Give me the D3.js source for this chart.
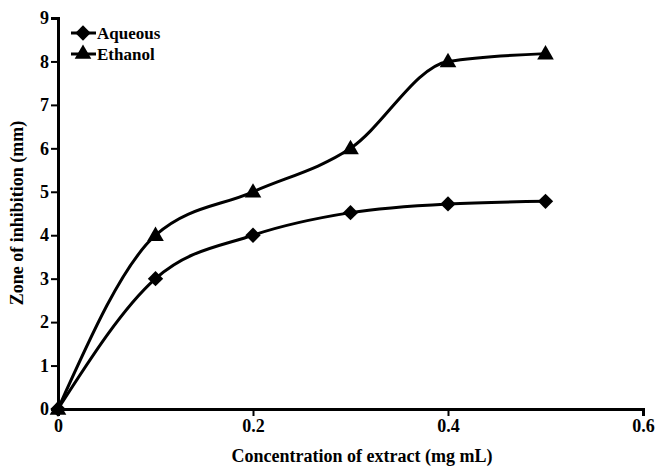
<!DOCTYPE html>
<html>
<head>
<meta charset="utf-8">
<script src="https://cdn.jsdelivr.net/npm/d3@7"></script>
<style>
  body { margin: 0; background: #fff; }
  text { font-family: "Liberation Serif", "Times New Roman", serif; font-weight: bold; fill: #000; }
</style>
</head>
<body>
<svg id="svg" width="661" height="468"></svg>
<script>
// data
const conc = [0, 0.1, 0.2, 0.3, 0.4, 0.5];
const aqueous = [0, 3, 4, 4.52, 4.72, 4.78];
const ethanol = [0, 4, 5, 6, 8, 8.18];
const xTicks = [0, 0.2, 0.4, 0.6];
const yTicks = [0, 1, 2, 3, 4, 5, 6, 7, 8, 9];

const svg = d3.select("#svg");
const x = d3.scaleLinear().domain([0, 0.6]).range([58, 643]);
const y = d3.scaleLinear().domain([0, 9]).range([409, 18]);

// axes
const xAxis = svg.append("g")
  .attr("transform", "translate(0,409)")
  .call(d3.axisBottom(x).tickValues(xTicks).tickSize(7).tickPadding(3)
    .tickFormat(d => d === 0 ? "0" : d3.format(".1f")(d)));
const yAxis = svg.append("g")
  .attr("transform", "translate(58,0)")
  .call(d3.axisLeft(y).tickValues(yTicks).tickSize(7).tickPadding(2));
[xAxis, yAxis].forEach(g => {
  g.select(".domain").attr("stroke", "#000").attr("stroke-width", 3);
  g.selectAll(".tick line").attr("stroke", "#000").attr("stroke-width", 2);
  g.selectAll(".tick text").style("font-size", "18px")
    .style("font-family", "'Liberation Serif', serif").style("font-weight", "bold");
});

// axis titles
svg.append("text").attr("x", 362).attr("y", 462).attr("text-anchor", "middle")
  .style("font-size", "18px").text("Concentration of extract (mg mL)");
svg.append("text").attr("transform", "translate(23,213) rotate(-90)")
  .attr("text-anchor", "middle").style("font-size", "18px").text("Zone of inhibition (mm)");

const line = d3.line().curve(d3.curveMonotoneX).x(d => x(d[0])).y(d => y(d[1]));
const series = [
  { name: "Aqueous", vals: aqueous, sym: d3.symbolDiamond2, size: 150 },
  { name: "Ethanol", vals: ethanol, sym: d3.symbolTriangle, size: 120 }
];

series.forEach(s => {
  const pts = conc.map((c, i) => [c, s.vals[i]]);
  svg.append("path").datum(pts).attr("d", line)
    .attr("fill", "none").attr("stroke", "#000").attr("stroke-width", 3);
  svg.selectAll(null).data(pts).enter().append("path")
    .attr("d", d3.symbol().type(s.sym).size(s.size))
    .attr("transform", d => `translate(${x(d[0])},${y(d[1]) + (s.sym === d3.symbolTriangle ? 1 : 0)})`)
    .attr("fill", "#000");
});

// legend
series.forEach((s, i) => {
  const ly = 33 + i * 21;
  svg.append("line").attr("x1", 71).attr("x2", 96).attr("y1", ly).attr("y2", ly)
    .attr("stroke", "#000").attr("stroke-width", 3);
  svg.append("path").attr("d", d3.symbol().type(s.sym).size(s.size))
    .attr("transform", `translate(83,${ly})`).attr("fill", "#000");
  svg.append("text").attr("x", 97).attr("y", ly + 6).style("font-size", "17px").text(s.name);
});
</script>
</body>
</html>
